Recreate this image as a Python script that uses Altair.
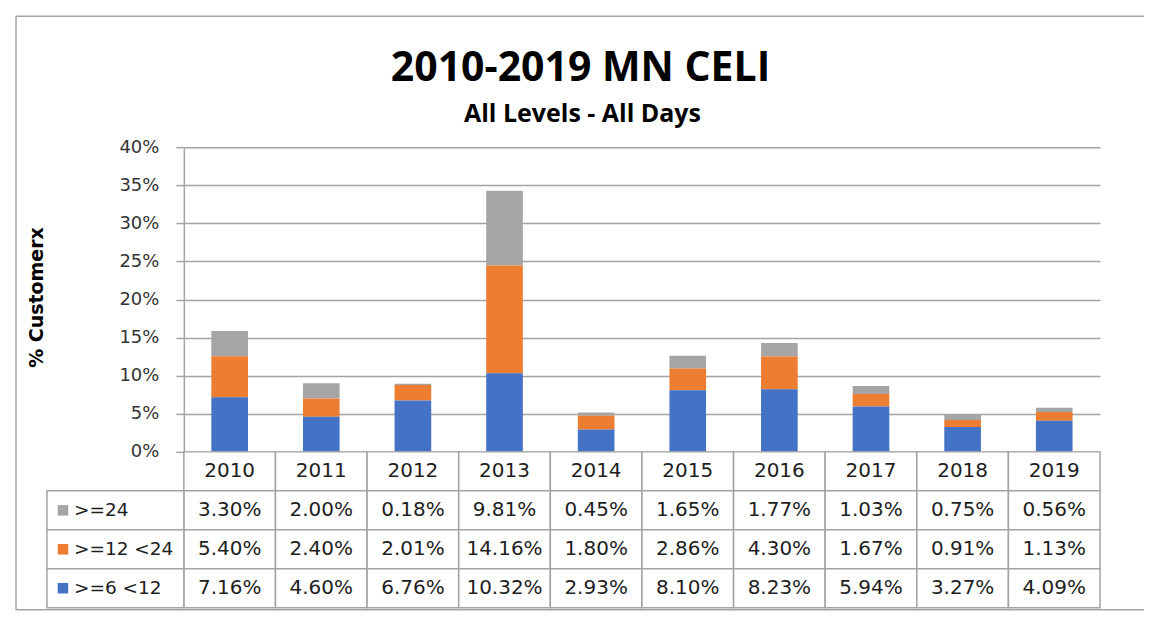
import altair as alt
import pandas as pd

years = ["2010", "2011", "2012", "2013", "2014", "2015", "2016", "2017", "2018", "2019"]
series_names = [">=24", ">=12 <24", ">=6 <12"]
ge24 = [3.30, 2.00, 0.18, 9.81, 0.45, 1.65, 1.77, 1.03, 0.75, 0.56]
ge12_24 = [5.40, 2.40, 2.01, 14.16, 1.80, 2.86, 4.30, 1.67, 0.91, 1.13]
ge6_12 = [7.16, 4.60, 6.76, 10.32, 2.93, 8.10, 8.23, 5.94, 3.27, 4.09]
series_colors = ["#A5A5A5", "#ED7D31", "#4472C4"]
stack_rank = [2, 1, 0]
y_ticks = [0.0, 0.05, 0.10, 0.15, 0.20, 0.25, 0.30, 0.35, 0.40]

title_text = "2010-2019 MN CELI"
subtitle_text = "All Levels - All Days"
y_title = "% Customerx"

rows = []
for name, vals, rank in zip(series_names, [ge24, ge12_24, ge6_12], stack_rank):
    for yr, v in zip(years, vals):
        rows.append({"year": yr, "series": name, "row": name, "value": v / 100.0,
                     "rank": rank, "label": f"{v:.2f}%"})
df = pd.DataFrame(rows)

hdr = pd.DataFrame({"year": years, "row": ["hdr"] * len(years), "label": years})
tdf = pd.concat([hdr, df[["year", "row", "label"]]], ignore_index=True)
leg = pd.DataFrame({"row": series_names, "series": series_names})
one = pd.DataFrame({"k": [0]})

FONT = "DejaVu Sans"
TFONT = "Open Sans"
GRID = "#A3A3A3"
TXT = "#1E1E1E"

color_scale = alt.Scale(domain=series_names, range=series_colors)

bars = alt.Chart(df).mark_bar().encode(
    x=alt.X("year:N", sort=years,
            scale=alt.Scale(paddingInner=0.6, paddingOuter=0.3), axis=None),
    y=alt.Y("value:Q", stack="zero",
            scale=alt.Scale(domain=[0, 0.4], nice=False),
            axis=alt.Axis(values=y_ticks, format=".0%", labelFont=FONT,
                          labelFontSize=18, labelColor="#333333", labelPadding=17,
                          tickSize=8, tickColor=GRID, tickWidth=1.5,
                          domainColor=GRID, domainWidth=1.5,
                          grid=True, gridColor=GRID, gridWidth=1.5,
                          title=y_title, titleFont=FONT, titleFontSize=19,
                          titleFontWeight="bold", titleColor="#000000",
                          titleAngle=270, titleX=-147, titleY=150,
                          titleAlign="center", titleBaseline="middle")),
    color=alt.Color("series:N", scale=color_scale, legend=None),
    order=alt.Order("rank:Q"),
)

frame_kw = dict(color=GRID, strokeWidth=1.5)
frame_top = alt.Chart(one).mark_rule(**frame_kw).encode(
    x=alt.value(-168), x2=alt.value(961), y=alt.value(-131))
frame_left = alt.Chart(one).mark_rule(**frame_kw).encode(
    x=alt.value(-168), y=alt.value(-131), y2=alt.value(463))
frame_bottom = alt.Chart(one).mark_rule(**frame_kw).encode(
    x=alt.value(-168), x2=alt.value(961), y=alt.value(463))

title = alt.Chart(one).mark_text(
    text=title_text, font=TFONT, fontSize=41, fontWeight="bold",
    align="center", baseline="alphabetic", color="#000000"
).encode(x=alt.value(397), y=alt.value(-66))
subtitle = alt.Chart(one).mark_text(
    text=subtitle_text, font=TFONT, fontSize=25, fontWeight="bold",
    align="center", baseline="alphabetic", color="#000000"
).encode(x=alt.value(399), y=alt.value(-25))

top = alt.layer(frame_top, frame_left, frame_bottom, bars, title, subtitle).properties(
    width=917, height=305)

xs = alt.X("year:N", sort=years, scale=alt.Scale(paddingInner=0, paddingOuter=0), axis=None)
ys = alt.Y("row:N", scale=alt.Scale(domain=["hdr"] + series_names,
                                    paddingInner=0, paddingOuter=0), axis=None)

cell_rect = alt.Chart(tdf).mark_rect(fill="white", stroke=GRID, strokeWidth=1.5).encode(
    x=xs, y=ys)
cell_text = alt.Chart(tdf).mark_text(font=FONT, fontSize=20, color=TXT).encode(
    x=xs, y=ys, text="label:N")
leg_rect = alt.Chart(leg).mark_rect(fill="white", stroke=GRID, strokeWidth=1.5).encode(
    x=alt.value(-137), x2=alt.value(0), y=ys)
leg_sq = alt.Chart(leg).mark_square(size=110, filled=True, opacity=1).encode(
    x=alt.value(-121), y=ys,
    color=alt.Color("series:N", scale=color_scale, legend=None))
leg_txt = alt.Chart(leg).mark_text(align="left", font=FONT, fontSize=18.5, color=TXT).encode(
    x=alt.value(-110), y=ys, text="series:N")

table = alt.layer(cell_rect, cell_text, leg_rect, leg_sq, leg_txt).properties(
    width=917, height=156)

chart = alt.vconcat(top, table, spacing=0, bounds="flush").resolve_scale(
    x="independent", y="independent"
).properties(
    padding={"left": 7, "top": 7, "right": 0, "bottom": 0}
).configure_view(stroke=None)

chart.save("out.html", embed_options={"renderer": "svg", "actions": False})
